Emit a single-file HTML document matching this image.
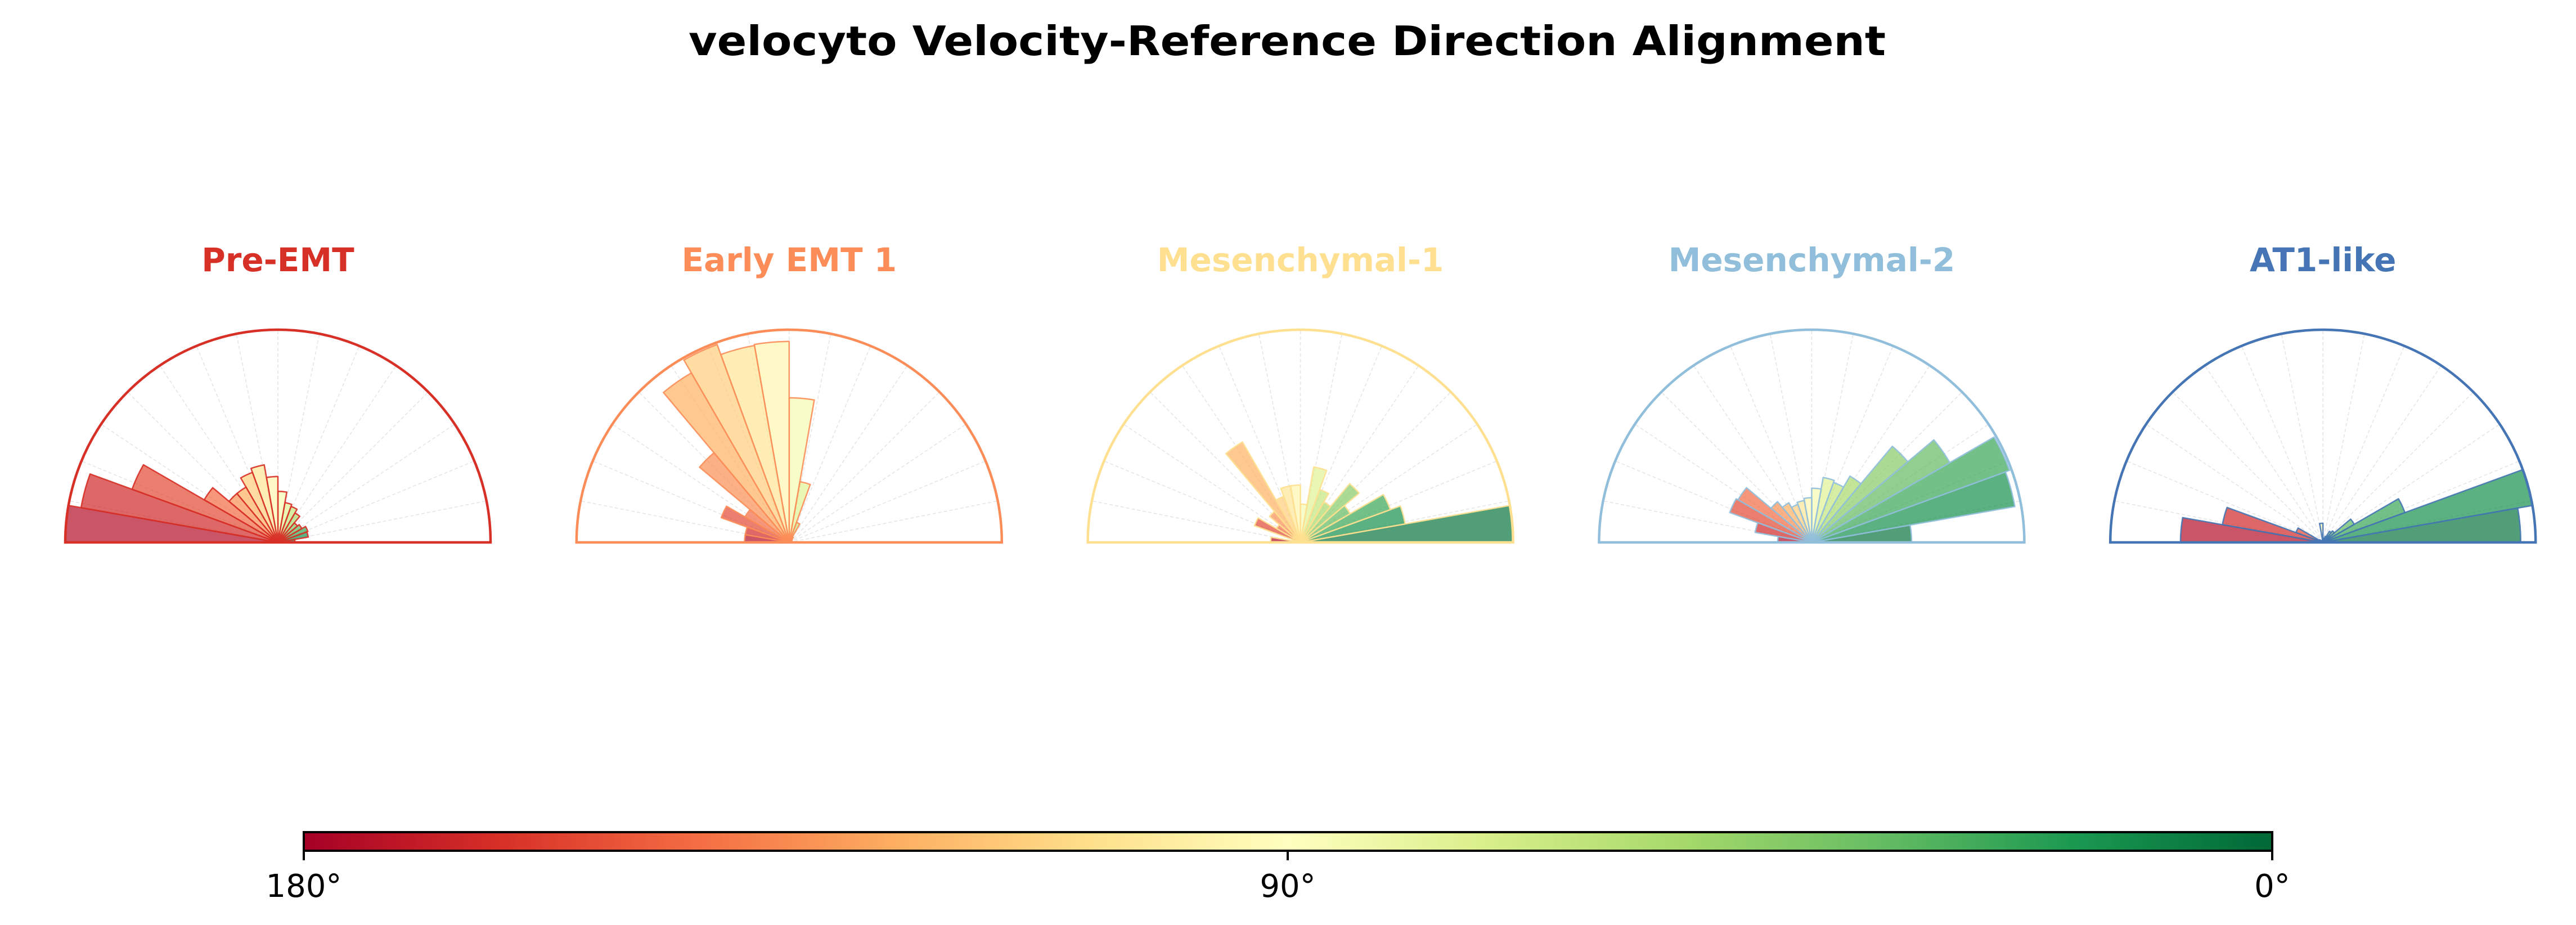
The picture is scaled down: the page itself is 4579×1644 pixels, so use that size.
<!DOCTYPE html>
<html><head><meta charset="utf-8"><style>
html,body{margin:0;padding:0;background:#fff;}
svg{display:block;}
</style></head><body>
<svg id="fig" width="4579" height="1644" viewBox="0 0 4579 1644" xmlns="http://www.w3.org/2000/svg" font-family="'DejaVu Sans','Liberation Sans',sans-serif">
<defs>
<linearGradient id="cbgrad" x1="0" x2="1" y1="0" y2="0">
<stop offset="0" stop-color="#a50026"/><stop offset="0.1" stop-color="#d73027"/><stop offset="0.2" stop-color="#f46d43"/><stop offset="0.3" stop-color="#fdae61"/><stop offset="0.4" stop-color="#fee08b"/><stop offset="0.5" stop-color="#ffffbf"/><stop offset="0.6" stop-color="#d9ef8b"/><stop offset="0.7" stop-color="#a6d96a"/><stop offset="0.8" stop-color="#66bd63"/><stop offset="0.9" stop-color="#1a9850"/><stop offset="1" stop-color="#006837"/>
</linearGradient>
</defs>
<text x="2288" y="98" text-anchor="middle" font-size="72" font-weight="bold" textLength="2128" lengthAdjust="spacingAndGlyphs" fill="#000">velocyto Velocity-Reference Direction Alignment</text>
<g id="panels"></g>
<g>
<rect x="540" y="1479" width="3499" height="33" fill="url(#cbgrad)" stroke="#000" stroke-width="4"/>
<line x1="540" y1="1512" x2="540" y2="1529" stroke="#000" stroke-width="4"/>
<line x1="2289" y1="1512" x2="2289" y2="1529" stroke="#000" stroke-width="4"/>
<line x1="4039" y1="1512" x2="4039" y2="1529" stroke="#000" stroke-width="4"/>
<text x="540" y="1594" text-anchor="middle" font-size="56" fill="#000">180°</text>
<text x="2289" y="1594" text-anchor="middle" font-size="56" fill="#000">90°</text>
<text x="4039" y="1594" text-anchor="middle" font-size="56" fill="#000">0°</text>
</g>
</svg>
<script>
// Data: 18 bins of 10° (bin i covers 10*i .. 10*i+10 degrees), values relative to max radius
const panelNames = ["Pre-EMT", "Early EMT 1", "Mesenchymal-1", "Mesenchymal-2", "AT1-like"];
const panelColors = ["#d73027", "#fc8d59", "#fee090", "#91bfdb", "#4575b4"];
const preEmt = [0.08,0.145,0.15,0.13,0.12,0.16,0.18,0.19,0.24,0.31,0.37,0.35,0.30,0.30,0.40,0.73,0.94,1.0];
const earlyEmt1 = [0.01,0.01,0.01,0.015,0.02,0.03,0.10,0.29,0.68,0.945,0.94,0.99,0.92,0.55,0.24,0.34,0.21,0.21];
const mesenchymal1 = [1.0,0.50,0.45,0.27,0.36,0.22,0.265,0.36,0.18,0.27,0.27,0.23,0.545,0.19,0.13,0.23,0.02,0.14];
const mesenchymal2 = [0.47,0.97,0.99,0.75,0.59,0.36,0.30,0.31,0.255,0.21,0.20,0.19,0.215,0.25,0.40,0.41,0.27,0.16];
const at1Like = [0.93,1.0,0.41,0.17,0.07,0.06,0.03,0.02,0.02,0.09,0.01,0.01,0.01,0.01,0.02,0.135,0.48,0.67];
const binDegrees = 10;
const gridDegrees = 11.25;

const seriesList = [preEmt, earlyEmt1, mesenchymal1, mesenchymal2, at1Like];
const NS = "http://www.w3.org/2000/svg";
const R = 378, baseY = 964, firstCx = 494, stepX = 908.8;
const stops = ["#a50026","#d73027","#f46d43","#fdae61","#fee08b","#ffffbf","#d9ef8b","#a6d96a","#66bd63","#1a9850","#006837"];
function hex(c){return [1,3,5].map(i=>parseInt(c.substr(i,2),16));}
function cmap(t){t=Math.max(0,Math.min(1,t));const p=t*10;const i=Math.min(9,Math.floor(p));const f=p-i;const a=hex(stops[i]),b=hex(stops[i+1]);return "rgb("+a.map((v,k)=>Math.round(v+(b[k]-v)*f)).join(",")+")";}
function px(cx,deg,r){return [cx+r*Math.cos(deg*Math.PI/180), baseY-r*Math.sin(deg*Math.PI/180)];}
const root = document.getElementById("panels");
seriesList.forEach((vals,p)=>{
  const cx = firstCx + p*stepX, col = panelColors[p];
  const g = document.createElementNS(NS,"g");
  
  
  root.appendChild(g);
  const t = document.createElementNS(NS,"text");
  
  
  t.setAttribute("x",cx); t.setAttribute("y",482); t.setAttribute("text-anchor","middle");
  t.setAttribute("font-size","58"); t.setAttribute("font-weight","bold"); t.setAttribute("fill",col);
  t.textContent = panelNames[p]; g.appendChild(t);
  for(let a=gridDegrees;a<180-0.01;a+=gridDegrees){
    const e=px(cx,a,R);
    const l=document.createElementNS(NS,"line");
    
    
    l.setAttribute("x1",cx);l.setAttribute("y1",baseY);l.setAttribute("x2",e[0]);l.setAttribute("y2",e[1]);
    l.setAttribute("stroke","#e4e4e4");l.setAttribute("stroke-width","1.5");l.setAttribute("stroke-dasharray","6,4");
    g.appendChild(l);
  }
  vals.forEach((v,i)=>{
    const a0=i*binDegrees, a1=a0+binDegrees, r=v*R;
    const s=px(cx,a0,r), e=px(cx,a1,r);
    const path=document.createElementNS(NS,"path");
    
    
    path.setAttribute("d","M"+cx+","+baseY+" L"+s[0]+","+s[1]+" A"+r+","+r+" 0 0 0 "+e[0]+","+e[1]+" Z");
    path.setAttribute("fill",cmap(1-(a0+binDegrees/2)/180));
    path.setAttribute("fill-opacity","0.7");
    path.setAttribute("stroke",col);path.setAttribute("stroke-width","2.5");path.setAttribute("stroke-opacity","0.9");
    path.setAttribute("stroke-linejoin","round");
    g.appendChild(path);
  });
  const f=document.createElementNS(NS,"path");
  
  
  f.setAttribute("d","M"+(cx-R)+","+baseY+" A"+R+","+R+" 0 0 1 "+(cx+R)+","+baseY+" Z");
  f.setAttribute("fill","none");f.setAttribute("stroke",col);f.setAttribute("stroke-width","4.5");
  g.appendChild(f);
});
</script>
</body></html>
